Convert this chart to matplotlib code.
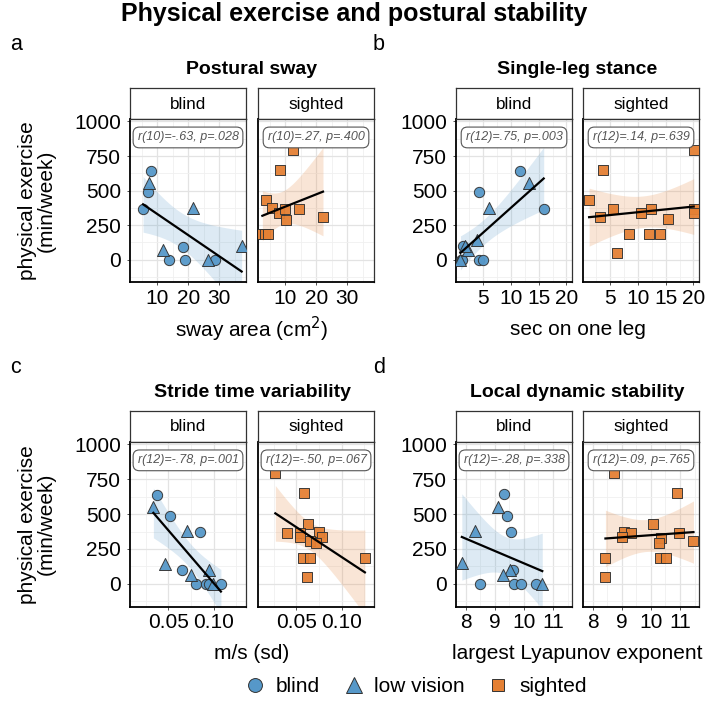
import matplotlib
matplotlib.use("Agg")
import matplotlib.pyplot as plt
from matplotlib.lines import Line2D
from matplotlib.ticker import MultipleLocator, AutoMinorLocator
import numpy as np

plt.rcParams["font.family"] = ["Liberation Sans", "DejaVu Sans"]

W, H = 709, 707
BLUE = "#5698c9"
ORANGE = "#e48034"
T_CRIT = {10: 2.228, 12: 2.179}

# --- a: postural sway (sway area, cm2) ---
a_blind_x = [8.1, 7.1, 5.5, 14.0, 18.3, 19.1, 28.6]
a_blind_y = [640, 488, 365, 0, 92, 0, 0]
a_low_x = [7.5, 21.6, 11.8, 26.3, 37.2]
a_low_y = [555, 372, 67, 0, 100]
a_sight_x = [12.6, 8.4, 3.9, 5.8, 8.1, 9.9, 14.6, 10.2, 22.2, 2.7, 3.5, 4.4]
a_sight_y = [795, 652, 430, 372, 336, 367, 367, 290, 307, 188, 188, 188]

# --- b: single-leg stance (sec) ---
b_blind_x = [11.6, 4.2, 15.9, 4.2, 5.0, 1.0, 1.1, 1.3]
b_blind_y = [640, 488, 367, 0, 0, 0, 0, 103]
b_low_x = [13.3, 6.0, 3.9, 2.2, 1.8, 0.9]
b_low_y = [555, 372, 146, 67, 103, 0]
b_sight_x = [20.05, 3.7, 1.2, 3.1, 5.5, 10.5, 12.4, 15.4, 8.4, 12.0, 14.0, 6.25, 20.05, 20.05]
b_sight_y = [792, 652, 430, 309, 367, 336, 370, 292, 188, 188, 188, 51, 367, 336]

# --- c: stride time variability (m/s sd) ---
c_blind_x = [0.0379, 0.0514, 0.0853, 0.0651, 0.0809, 0.0919, 0.0953, 0.1082]
c_blind_y = [638, 488, 371, 103, 0, 0, 0, 0]
c_low_x = [0.0334, 0.0706, 0.0467, 0.0754, 0.0945, 0.0989]
c_low_y = [552, 378, 146, 67, 103, 0]
c_sight_x = [0.0267, 0.0584, 0.0633, 0.0396, 0.0544, 0.0537, 0.0751, 0.0784,
             0.0651, 0.0714, 0.0573, 0.0651, 0.1259, 0.0618]
c_sight_y = [792, 648, 430, 368, 364, 333, 373, 335, 306, 292, 186, 186, 186, 50]

# --- d: local dynamic stability (largest Lyapunov exponent) ---
d_blind_x = [9.33, 9.42, 9.55, 9.61, 8.5, 9.67, 9.89, 10.4]
d_blind_y = [641, 488, 371, 103, 0, 0, 0, 0]
d_low_x = [9.12, 8.31, 7.87, 9.53, 9.27, 10.63]
d_low_y = [552, 378, 151, 103, 67, 0]
d_sight_x = [8.72, 10.91, 10.06, 9.07, 9.33, 9.0, 10.98, 10.36, 10.29, 11.46,
             8.44, 10.31, 10.52, 8.44]
d_sight_y = [792, 648, 430, 373, 368, 335, 368, 330, 292, 306, 186, 186, 186, 53]

corr_labels = {
    "a": ["r(10)=-.63, p=.028", "r(10)=.27, p=.400"],
    "b": ["r(12)=.75, p=.003", "r(12)=.14, p=.639"],
    "c": ["r(12)=-.78, p=.001", "r(12)=-.50, p=.067"],
    "d": ["r(12)=-.28, p=.338", "r(12)=.09, p=.765"],
}


def rect(x0, y0, x1, y1):
    return [x0 / W, 1 - y1 / H, (x1 - x0) / W, (y1 - y0) / H]


def fit_band(ax, x, y, color):
    x = np.asarray(x, float)
    y = np.asarray(y, float)
    n = len(x)
    b, a = np.polyfit(x, y, 1)
    xs = np.linspace(x.min(), x.max(), 100)
    yhat = a + b * xs
    s = np.sqrt(np.sum((y - (a + b * x)) ** 2) / (n - 2))
    sxx = np.sum((x - x.mean()) ** 2)
    se = s * np.sqrt(1 / n + (xs - x.mean()) ** 2 / sxx)
    t = T_CRIT[n - 2]
    ax.fill_between(xs, yhat - t * se, yhat + t * se, color=color, alpha=0.2, lw=0, zorder=1)
    ax.plot(xs, yhat, color="black", lw=1.6, zorder=5)


def panel(fig, x0, x1, ytop, ybot, strip, xlim, step, groups, corr, fit_color, ylabels):
    sax = fig.add_axes(rect(x0, ytop - 31, x1, ytop))
    sax.set_xticks([])
    sax.set_yticks([])
    for sp in sax.spines.values():
        sp.set_color("#333333")
        sp.set_linewidth(0.9)
    sax.text(0.5, 0.48, strip, ha="center", va="center", fontsize=12.3, transform=sax.transAxes)

    ax = fig.add_axes(rect(x0, ytop, x1, ybot))
    ax.set_xlim(*xlim)
    ax.set_ylim(-163, 1018)
    ax.xaxis.set_major_locator(MultipleLocator(step))
    ax.xaxis.set_minor_locator(AutoMinorLocator(2))
    ax.yaxis.set_major_locator(MultipleLocator(250))
    ax.yaxis.set_minor_locator(AutoMinorLocator(2))
    ax.grid(which="major", color="#e3e3e3", lw=0.9, zorder=0)
    ax.grid(which="minor", color="#f0f0f0", lw=0.6, zorder=0)
    ax.set_axisbelow(True)
    ax.tick_params(which="major", labelsize=15, length=2.5, width=0.6, color="#333333", pad=2)
    ax.tick_params(which="minor", length=0)
    ax.tick_params(axis="y", pad=4)
    if not ylabels:
        ax.tick_params(axis="y", labelleft=False, length=0)
    for side in ("top", "right"):
        ax.spines[side].set_color("#333333")
        ax.spines[side].set_linewidth(0.9)
    for side in ("left", "bottom"):
        ax.spines[side].set_color("black")
        ax.spines[side].set_linewidth(1.3)

    allx, ally = [], []
    for gx, gy, marker, color, size in groups:
        ax.scatter(gx, gy, marker=marker, s=size, facecolor=color, edgecolor="#333333",
                   linewidth=0.7, alpha=0.95, zorder=4, clip_on=True)
        allx += list(gx)
        ally += list(gy)
    fit_band(ax, allx, ally, fit_color)

    ax.text(0.5, 0.887, corr, transform=ax.transAxes, ha="center", va="center",
            fontsize=9, style="italic", color="#555555", zorder=6,
            bbox=dict(boxstyle="round,pad=0.35,rounding_size=0.5", facecolor="white",
                      edgecolor="#555555", linewidth=0.8))
    return ax


fig = plt.figure(figsize=(W / 100, H / 100), dpi=100)

fig.text(354 / W, 1 - 14 / H, "Physical exercise and postural stability", ha="center",
         va="center", fontsize=18, fontweight="bold")

cols = [(130, 246, 258, 374), (456, 572, 583, 699)]
rows = [(119, 282.3), (441.7, 606.7)]

specs = [
    ("a", 0, 0, "Postural sway", "sway area (cm$^2$)", (1.3, 38.6), 10,
     (a_blind_x, a_blind_y, a_low_x, a_low_y, a_sight_x, a_sight_y)),
    ("b", 0, 1, "Single-leg stance", "sec on one leg", (0.1, 21.0), 5,
     (b_blind_x, b_blind_y, b_low_x, b_low_y, b_sight_x, b_sight_y)),
    ("c", 1, 0, "Stride time variability", "m/s (sd)", (0.0075, 0.136), 0.05,
     (c_blind_x, c_blind_y, c_low_x, c_low_y, c_sight_x, c_sight_y)),
    ("d", 1, 1, "Local dynamic stability", "largest Lyapunov exponent", (7.67, 11.65), 1,
     (d_blind_x, d_blind_y, d_low_x, d_low_y, d_sight_x, d_sight_y)),
]

for letter, r, c, title, xlabel, xlim, step, data in specs:
    bx, by, lx, ly, sx, sy = data
    ytop, ybot = rows[r]
    bx0, bx1, sx0, sx1 = cols[c]
    panel(fig, bx0, bx1, ytop, ybot, "blind", xlim, step,
          [(bx, by, "o", BLUE, 55), (lx, ly, "^", BLUE, 75)],
          corr_labels[letter][0], BLUE, True)
    panel(fig, sx0, sx1, ytop, ybot, "sighted", xlim, step,
          [(sx, sy, "s", ORANGE, 48)],
          corr_labels[letter][1], ORANGE, False)

    cx = (bx0 + sx1) / 2
    fig.text((10 if c == 0 else 373) / W, 1 - (ytop - 74) / H, letter, ha="left",
             va="center", fontsize=15.5)
    fig.text(cx / W, 1 - (ytop - 49) / H, title, ha="center", va="center",
             fontsize=14, fontweight="bold")
    fig.text(cx / W, 1 - (ybot + 47) / H, xlabel, ha="center", va="center", fontsize=15)
    if c == 0:
        fig.text(37 / W, 1 - ((ytop + ybot) / 2) / H, "physical exercise\n(min/week)",
                 rotation=90, ha="center", va="center", fontsize=15, linespacing=0.95)

handles = [
    Line2D([], [], ls="", marker="o", markersize=10, markerfacecolor=BLUE,
           markeredgecolor="#333333", markeredgewidth=0.7, label="blind"),
    Line2D([], [], ls="", marker="^", markersize=11, markerfacecolor=BLUE,
           markeredgecolor="#333333", markeredgewidth=0.7, label="low vision"),
    Line2D([], [], ls="", marker="s", markersize=9, markerfacecolor=ORANGE,
           markeredgecolor="#333333", markeredgewidth=0.7, label="sighted"),
]
fig.legend(handles=handles, loc="center", bbox_to_anchor=(0.585, 1 - 687 / H), ncol=3,
           frameon=False, fontsize=15, handletextpad=0.4, columnspacing=1.0,
           handlelength=1.2)

fig.savefig("out.png", dpi=100)
